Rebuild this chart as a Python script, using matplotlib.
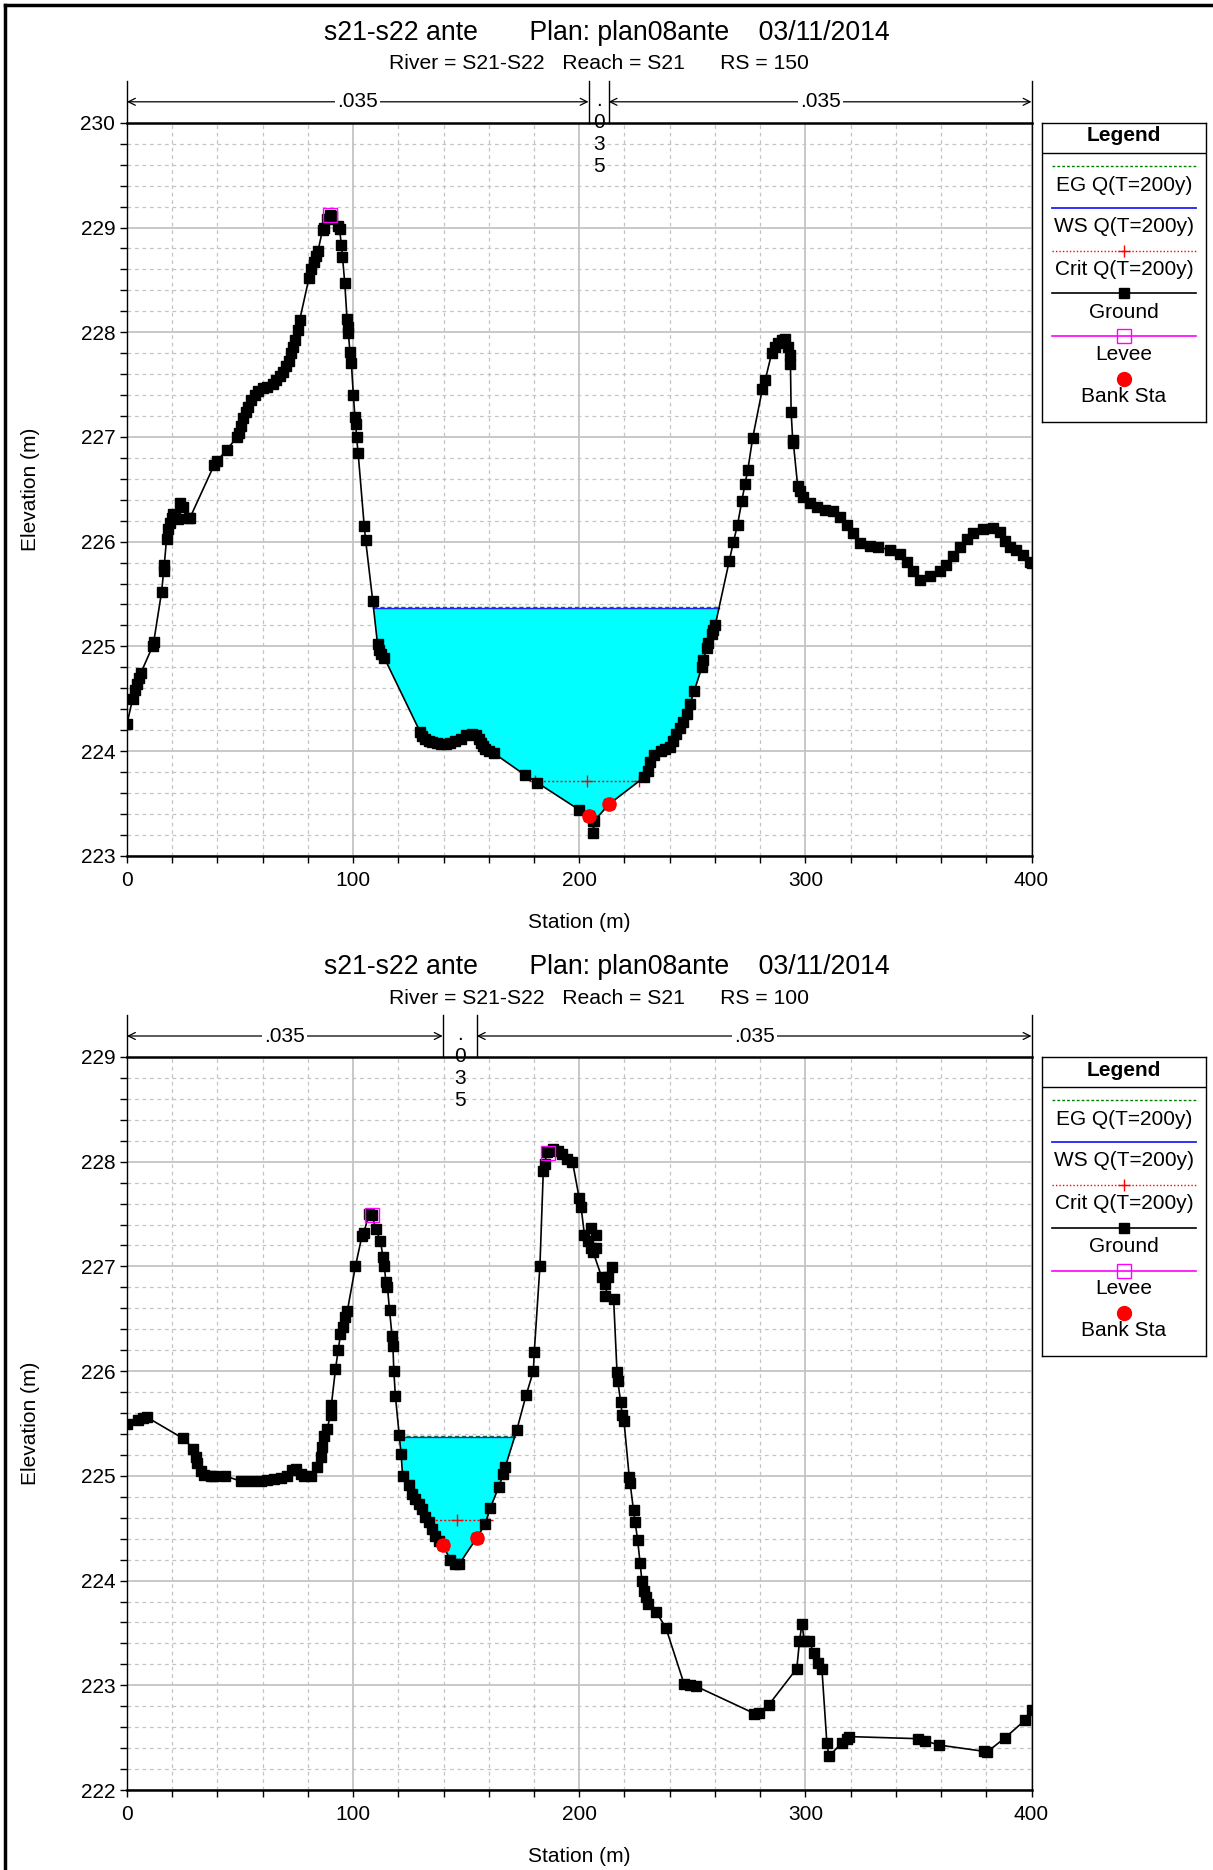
import numpy as np
import matplotlib
matplotlib.use("Agg")
import matplotlib.pyplot as plt
import matplotlib.transforms as mtransforms
from matplotlib.lines import Line2D
from matplotlib.ticker import MultipleLocator

plt.rcParams['font.family'] = ['Liberation Sans', 'DejaVu Sans']

# ---------------- data ----------------
title_text = "s21-s22 ante       Plan: plan08ante    03/11/2014"
subtitles = ["River = S21-S22   Reach = S21      RS = 150",
             "River = S21-S22   Reach = S21      RS = 100"]
n_values = [".035", ".035", ".035"]
legend_labels = ["EG Q(T=200y)", "WS Q(T=200y)", "Crit Q(T=200y)", "Ground", "Levee", "Bank Sta"]

# RS = 150 ground profile
top_x = [0, 2.5, 3.5, 4.5, 5.5, 6.2, 11.3, 11.8, 15.3, 16.2,
         16.5, 17.5, 18.2, 19.0, 19.7, 20.2, 21.2, 22.4, 23.5, 24.6,
         27.3, 27.9, 38.5, 39.8, 44.2, 48.7, 49.5, 50.5, 51.5, 52.5,
         53.5, 55.0, 56.5, 58.0, 60.0, 62.0, 64.5, 66.0, 67.5, 69.0,
         70.5, 71.5, 72.5, 73.5, 74.5, 75.5, 76.4, 80.5, 81.5, 82.5,
         83.5, 84.5, 86.5, 87.0, 88.5, 89.7, 90.5, 93.3, 94.0, 94.8,
         95.3, 96.3, 97.3, 97.7, 97.9, 98.6, 99.2, 100.1, 100.8, 101.2,
         101.5, 102.2, 104.9, 105.5, 108.7, 110.8, 111.5, 112.5, 113.8, 129.7,
         130.5, 132.0, 133.5, 135.0, 137.0, 139.0, 141.0, 143.0, 145.0, 147.5,
         150.0, 152.5, 154.5, 155.5, 156.5, 157.5, 158.5, 160.0, 162.2, 176.1,
         181.3, 199.9, 204.1, 206.2, 206.3, 206.5, 213.0, 228.7, 230.6, 231.5,
         233.0, 236.0, 238.0, 240.2, 241.5, 243.0, 244.6, 246.0, 247.5, 249.0,
         250.8, 254.2, 254.9, 256.3, 257.0, 258.5, 259.3, 260.1, 266.4, 268.2,
         270.0, 271.9, 273.3, 274.5, 276.7, 281.0, 282.2, 285.1, 286.5, 288.0,
         289.5, 291.0, 292.4, 293.1, 293.4, 293.7, 294.4, 294.7, 296.6, 297.5,
         299.1, 302.0, 305.0, 308.7, 312.4, 315.3, 318.3, 321.2, 324.2, 328.6,
         332.3, 337.4, 341.8, 344.8, 347.8, 350.7, 355.1, 359.5, 362.4, 365.4,
         368.3, 371.3, 374.2, 378.6, 383.0, 385.9, 388.1, 390.4, 393.3, 396.3,
         399.3, 400.0]
top_y = [224.26, 224.50, 224.58, 224.64, 224.70, 224.75, 225.00, 225.04, 225.52, 225.72,
         225.78, 226.03, 226.12, 226.18, 226.23, 226.26, 226.23, 226.22, 226.37, 226.33,
         226.23, 226.23, 226.73, 226.77, 226.88, 227.00, 227.04, 227.10, 227.18, 227.24,
         227.29, 227.35, 227.40, 227.44, 227.47, 227.48, 227.51, 227.54, 227.58, 227.62,
         227.68, 227.73, 227.80, 227.86, 227.93, 228.02, 228.12, 228.52, 228.60, 228.67,
         228.73, 228.78, 228.98, 229.00, 229.08, 229.12, 229.11, 229.01, 228.99, 228.83,
         228.72, 228.47, 228.13, 228.05, 227.99, 227.81, 227.71, 227.40, 227.19, 227.12,
         227.00, 226.85, 226.15, 226.02, 225.43, 225.02, 224.97, 224.93, 224.89, 224.18,
         224.14, 224.12, 224.10, 224.09, 224.08, 224.07, 224.07, 224.08, 224.10, 224.12,
         224.15, 224.16, 224.15, 224.12, 224.08, 224.05, 224.02, 224.00, 223.98, 223.77,
         223.70, 223.44, 223.38, 223.33, 223.22, 223.33, 223.49, 223.75, 223.81, 223.90,
         223.96, 224.00, 224.02, 224.04, 224.10, 224.16, 224.22, 224.28, 224.35, 224.45,
         224.57, 224.80, 224.87, 224.98, 225.03, 225.12, 225.16, 225.20, 225.82, 226.00,
         226.16, 226.39, 226.55, 226.68, 226.99, 227.46, 227.54, 227.80, 227.86, 227.90,
         227.93, 227.94, 227.86, 227.78, 227.70, 227.24, 226.97, 226.94, 226.53, 226.48,
         226.43, 226.37, 226.33, 226.30, 226.29, 226.24, 226.16, 226.08, 225.99, 225.96,
         225.95, 225.92, 225.88, 225.81, 225.72, 225.63, 225.67, 225.72, 225.78, 225.86,
         225.95, 226.03, 226.08, 226.12, 226.13, 226.09, 226.01, 225.95, 225.92, 225.87,
         225.81, 225.80]
top_levee_x = [89.7]
top_levee_y = [229.12]
top_bank_x = [204.1, 213.0]
top_bank_y = [223.38, 223.49]
top_ws = 225.37
top_eg = 225.38
top_crit = 223.71

# RS = 100 ground profile
bot_x = [0, 4.7, 6.9, 8.8, 24.6, 29.4, 30.4, 31.1, 32.6, 34.1,
         37.1, 38.5, 43.2, 50.3, 54.7, 59.1, 62.1, 65.0, 67.9, 70.9,
         73.0, 74.6, 76.8, 78.2, 81.2, 84.1, 85.6, 86.3, 87.1, 88.5,
         90.0, 90.4, 92.2, 93.4, 94.4, 95.4, 96.6, 97.4, 101.0, 103.9,
         104.7, 107.0, 108.4, 110.0, 112.1, 113.2, 113.8, 114.5, 115.2, 116.1,
         117.2, 117.6, 118.0, 118.7, 120.4, 121.2, 121.9, 124.5, 126.0, 127.5,
         129.0, 130.4, 131.9, 133.4, 134.9, 136.4, 137.8, 139.6, 143.0, 145.2,
         147.0, 154.7, 158.4, 160.6, 164.3, 166.5, 167.2, 172.4, 176.5, 179.7,
         180.1, 182.6, 184.1, 184.8, 185.6, 188.4, 190.7, 192.4, 194.7, 197.0,
         200.0, 200.8, 202.3, 205.3, 207.6, 203.8, 205.3, 207.6, 206.1, 209.9,
         211.4, 212.9, 214.5, 211.4, 215.2, 216.7, 217.0, 218.3, 219.0, 219.8,
         222.1, 222.5, 224.0, 224.7, 225.8, 226.9, 227.7, 228.5, 229.3, 230.6,
         234.0, 238.3, 246.4, 249.1, 251.7, 277.5, 279.3, 283.7, 296.2, 297.4,
         298.5, 299.5, 301.4, 303.9, 305.8, 307.3, 309.5, 310.4, 316.1, 318.3,
         319.5, 350.0, 353.0, 358.9, 378.8, 380.2, 388.4, 397.3, 400.0]
bot_y = [225.50, 225.53, 225.55, 225.56, 225.36, 225.26, 225.18, 225.12, 225.05, 225.01,
         225.00, 225.00, 225.00, 224.95, 224.95, 224.95, 224.96, 224.97, 224.98, 225.00,
         225.06, 225.07, 225.02, 225.00, 225.00, 225.08, 225.18, 225.28, 225.38, 225.45,
         225.58, 225.68, 226.02, 226.20, 226.35, 226.42, 226.52, 226.57, 227.00, 227.29,
         227.32, 227.50, 227.49, 227.36, 227.24, 227.09, 227.00, 226.85, 226.80, 226.58,
         226.34, 226.24, 226.00, 225.76, 225.39, 225.21, 225.00, 224.91, 224.83, 224.78,
         224.73, 224.68, 224.61, 224.56, 224.49, 224.43, 224.38, 224.34, 224.20, 224.16,
         224.16, 224.41, 224.54, 224.69, 224.89, 225.02, 225.08, 225.44, 225.77, 226.00,
         226.18, 227.00, 227.91, 227.98, 228.09, 228.12, 228.10, 228.07, 228.03, 228.00,
         227.65, 227.57, 227.30, 227.37, 227.30, 227.24, 227.18, 227.18, 227.14, 226.90,
         226.83, 226.90, 226.99, 226.72, 226.69, 225.99, 225.91, 225.71, 225.58, 225.52,
         224.99, 224.93, 224.67, 224.56, 224.39, 224.17, 224.00, 223.90, 223.84, 223.78,
         223.70, 223.55, 223.01, 223.00, 222.99, 222.73, 222.74, 222.81, 223.16, 223.42,
         223.59, 223.42, 223.42, 223.31, 223.21, 223.16, 222.45, 222.32, 222.45, 222.49,
         222.51, 222.49, 222.47, 222.43, 222.37, 222.36, 222.50, 222.67, 222.76]
bot_levee_x = [108.4, 186.0]
bot_levee_y = [227.49, 228.08]
bot_bank_x = [139.6, 154.7]
bot_bank_y = [224.34, 224.41]
bot_ws = 225.37
bot_eg = 225.38
bot_crit = 224.58

x_ticks = [0, 100, 200, 300, 400]

# ---------------- layout ----------------
W, H = 1213, 1870
DPI = 100
fig = plt.figure(figsize=(W / DPI, H / DPI), dpi=DPI)
fig.patch.set_facecolor('white')

FS = 15
AX_L, AX_R = 127, 1031.5
AX_H = 733.0


def rect(l, t, r, b):
    return [l / W, 1 - b / H, (r - l) / W, (b - t) / H]


def crossings(x, y, level, lo, hi):
    out = []
    for i in range(len(x) - 1):
        d0, d1 = y[i] - level, y[i + 1] - level
        if d0 * d1 < 0:
            xc = x[i] + (x[i + 1] - x[i]) * d0 / (d0 - d1)
            if lo <= xc <= hi:
                out.append(xc)
    return min(out), max(out)


def panel(top_px, gx, gy, lev_x, lev_y, bank_x, bank_y, ws, eg, crit,
          chan, ylim, subtitle):
    gx = np.asarray(gx, float)
    gy = np.asarray(gy, float)
    ax = fig.add_axes(rect(AX_L, top_px, AX_R, top_px + AX_H))
    ax.set_xlim(0, 400)
    ax.set_ylim(*ylim)
    ax.xaxis.set_major_locator(MultipleLocator(100))
    ax.xaxis.set_minor_locator(MultipleLocator(20))
    ax.yaxis.set_major_locator(MultipleLocator(1))
    ax.yaxis.set_minor_locator(MultipleLocator(0.2))
    ax.set_xticks(x_ticks)
    ax.set_axisbelow(True)
    ax.grid(which='major', color='#c4c4c4', lw=1.3, ls='-')
    ax.grid(which='minor', color='#c4c4c4', lw=0.9, ls=(0, (3, 3)))
    ax.tick_params(which='both', direction='out', length=5, width=1,
                   color='black', labelsize=FS, top=False, right=False)
    ax.tick_params(axis='x', which='both', pad=6)
    ax.tick_params(axis='y', which='both', pad=3.5)
    for s in ['left', 'right']:
        ax.spines[s].set_linewidth(1.0)
    for s in ['top', 'bottom']:
        ax.spines[s].set_linewidth(1.8)

    lo, hi = chan
    # water
    mask = (gx >= lo) & (gx <= hi) & (gy <= ws)
    ax.fill_between(gx, gy, ws, where=mask, interpolate=True,
                    color='#00ffff', lw=0, zorder=2)
    wl, wr = crossings(gx, gy, ws, lo, hi)
    el, er = crossings(gx, gy, eg, lo, hi)
    ax.plot([el, er], [eg, eg], color='#008000', lw=1.0, ls=(0, (3, 2)), zorder=3)
    ax.plot([wl, wr], [ws, ws], color='#2020ff', lw=1.0, zorder=3)
    cl, cr = crossings(gx, gy, crit, lo, hi)
    ax.plot([cl, cr], [crit, crit], color='red', lw=1.0, ls=(0, (1.5, 1.5)), zorder=3)
    ax.plot([cl, (cl + cr) / 2, cr], [crit] * 3, ls='none', marker='+',
            color='red', ms=9, mew=1.0, zorder=4)
    # ground
    ax.plot(gx, gy, color='black', lw=1.2, marker='s', ms=6.5,
            mfc='black', mec='black', zorder=5)
    ax.plot(lev_x, lev_y, ls='none', marker='s', ms=10, mfc='none',
            mec='#ff00ff', mew=1.0, zorder=6)
    ax.plot(bank_x, bank_y, ls='none', marker='o', ms=9.5, mfc='red',
            mec='red', zorder=7)

    # manning's n band
    trans = mtransforms.blended_transform_factory(ax.transData, ax.transAxes)
    band_top = 1 + 42 / AX_H
    arrow_y = 1 + 21 / AX_H
    bounds = [0, bank_x[0], bank_x[1], 400]
    for xv in bounds:
        ax.plot([xv, xv], [1, band_top], transform=trans, color='black',
                lw=1.0, clip_on=False, zorder=8)
    for (a, b) in [(bounds[0], bounds[1]), (bounds[2], bounds[3])]:
        ax.annotate('', xy=(a, arrow_y), xytext=(b, arrow_y), xycoords=trans,
                    textcoords=trans,
                    arrowprops=dict(arrowstyle='<->,head_length=0.5,head_width=0.25',
                                    lw=0.9, color='black', shrinkA=0, shrinkB=0))
    ax.text((bounds[0] + bounds[1]) / 2, arrow_y, n_values[0], transform=trans,
            ha='center', va='center', fontsize=FS,
            bbox=dict(fc='white', ec='none', pad=1.5), zorder=9)
    ax.text((bounds[2] + bounds[3]) / 2, arrow_y, n_values[2], transform=trans,
            ha='center', va='center', fontsize=FS,
            bbox=dict(fc='white', ec='none', pad=1.5), zorder=9)
    xm = (bounds[1] + bounds[2]) / 2
    ax.text(xm, 1 + 17 / AX_H, '.', transform=trans, ha='center',
            va='baseline', fontsize=FS, zorder=9)
    for k, ch in enumerate(['0', '3', '5']):
        ax.text(xm, 1 - 22 * k / AX_H, ch, transform=trans, ha='center',
                va='center', fontsize=FS, zorder=9)

    # titles and labels
    fig.text(0.5, 1 - (top_px - 90) / H, title_text, ha='center',
             va='center', fontsize=19.2)
    fig.text(0.494, 1 - (top_px - 59) / H, subtitle, ha='center',
             va='center', fontsize=15.2)
    fig.text((AX_L + AX_R) / 2 / W, 1 - (top_px + AX_H + 67) / H,
             'Station (m)', ha='center', va='center', fontsize=FS)
    fig.text(30 / W, 1 - (top_px + AX_H / 2) / H, 'Elevation (m)',
             rotation=90, ha='center', va='center', fontsize=FS)

    # legend box
    L, R = 1042, 1206
    lg = fig.add_axes(rect(L, top_px, R, top_px + 299))
    lg.set_xlim(0, 1)
    lg.set_ylim(0, 1)
    lg.set_xticks([])
    lg.set_yticks([])
    for s in lg.spines.values():
        s.set_linewidth(1.0)

    def fy(off):
        return 1 - off / 299.0

    x0, x1 = 10 / 164, 154 / 164
    lg.text(0.5, fy(13), 'Legend', ha='center', va='center',
            fontsize=FS, fontweight='bold')
    lg.plot([0, 1], [fy(30), fy(30)], color='black', lw=1.0)
    lg.plot([x0, x1], [fy(43)] * 2, color='#008000', lw=1.0, ls=(0, (2, 1.5)))
    lg.plot([x0, x1], [fy(85)] * 2, color='#2020ff', lw=1.3)
    lg.plot([x0, x1], [fy(128)] * 2, color='red', lw=1.0, ls=(0, (1, 1.5)))
    lg.plot([0.5], [fy(128)], marker='+', color='red', ms=9, mew=1.0)
    lg.plot([x0, x1], [fy(170.5)] * 2, color='black', lw=1.2)
    lg.plot([0.5], [fy(170.5)], marker='s', color='black', ms=6.5)
    lg.plot([x0, x1], [fy(213.5)] * 2, color='#ff00ff', lw=1.2)
    lg.plot([0.5], [fy(213.5)], marker='s', ms=10, mfc='none', mec='#ff00ff', mew=1.0)
    lg.plot([0.5], [fy(256)], marker='o', ms=10, mfc='red', mec='red')
    for off, lab in zip([62.5, 104, 146.5, 189.5, 232, 274], legend_labels):
        lg.text(0.5, fy(off), lab, ha='center', va='center', fontsize=FS)
    return ax


panel(122.8, top_x, top_y, top_levee_x, top_levee_y, top_bank_x, top_bank_y,
      top_ws, top_eg, top_crit, (100, 268), (223, 230), subtitles[0])
panel(1057.0, bot_x, bot_y, bot_levee_x, bot_levee_y, bot_bank_x, bot_bank_y,
      bot_ws, bot_eg, bot_crit, (115, 180), (222, 229), subtitles[1])

# outer frame lines (left and top)
fig.add_artist(Line2D([5 / W, 5 / W], [0, 1 - 5 / H], transform=fig.transFigure,
                      color='black', lw=2.5))
fig.add_artist(Line2D([5 / W, 1], [1 - 5 / H, 1 - 5 / H], transform=fig.transFigure,
                      color='black', lw=2.5))

fig.savefig('out.png', dpi=DPI, facecolor='white')
